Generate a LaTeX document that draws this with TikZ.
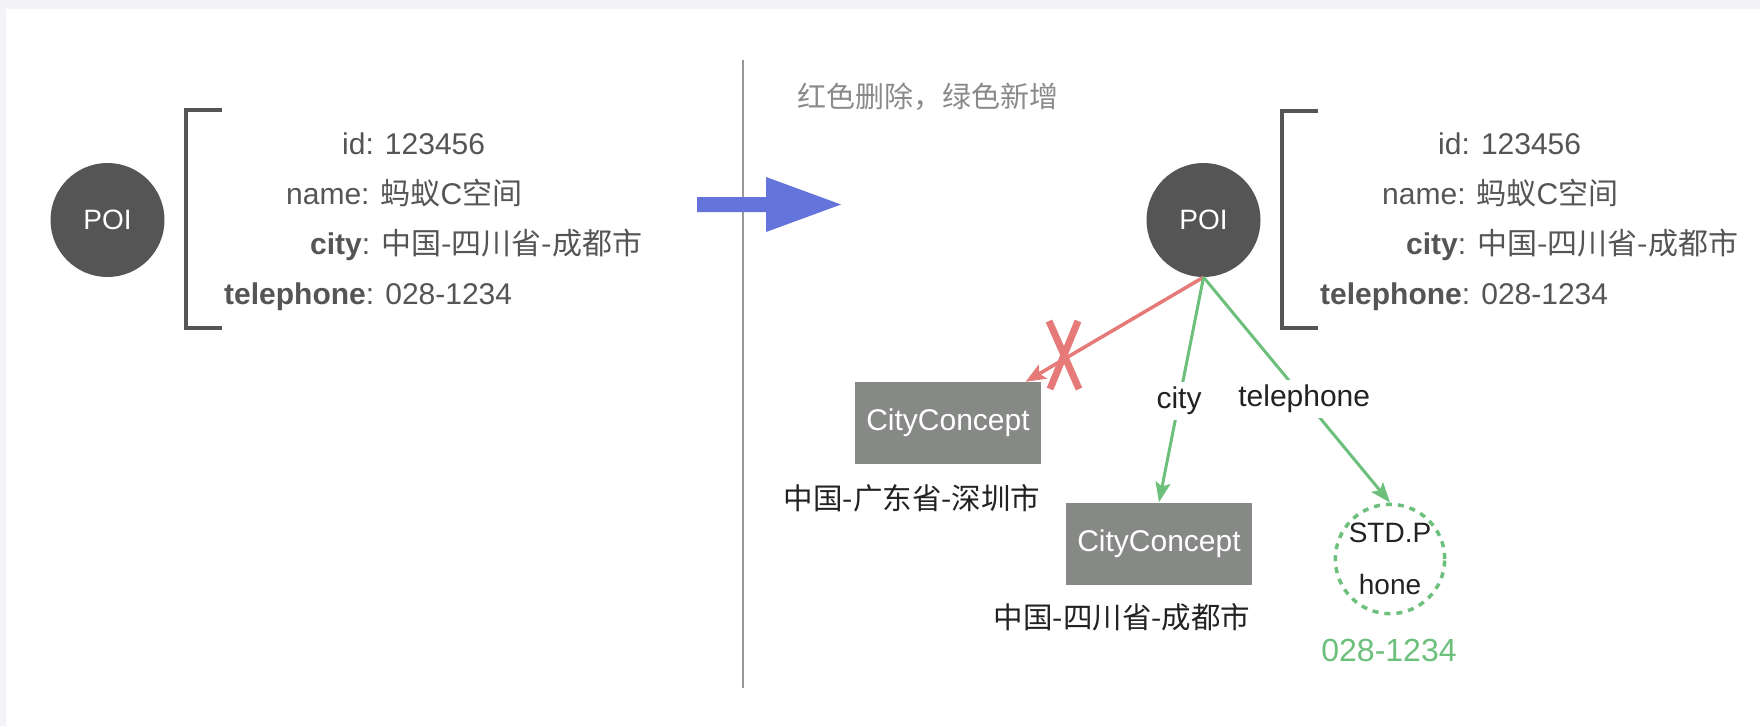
\documentclass[tikz,border=0pt]{standalone}
\usepackage{fontspec}
\setmainfont{Liberation Sans}
\newfontfamily\cjk{Noto Sans CJK SC}
\usetikzlibrary{arrows.meta}
\definecolor{poigray}{HTML}{555555}
\definecolor{txtgray}{HTML}{555555}
\definecolor{notegray}{HTML}{8A8A8A}
\definecolor{boxgray}{HTML}{878986}
\definecolor{delred}{HTML}{E57A78}
\definecolor{addgreen}{HTML}{6DBF7C}
\definecolor{arrowblue}{HTML}{6574DB}
\definecolor{bgstrip}{HTML}{F4F4F8}
\definecolor{divgray}{HTML}{999999}
\definecolor{captxt}{HTML}{222222}
\begin{document}
\begin{tikzpicture}[x=1pt,y=-1pt,
  txt/.style={font=\fontsize{30}{34}\selectfont, inner sep=0pt},
  attr/.style={txt, text=txtgray, anchor=base west},
  poi/.style={circle, fill=poigray, minimum size=114pt, inner sep=0pt, text=white, font=\fontsize{28}{32}\selectfont},
  concept/.style={rectangle, fill=boxgray, minimum width=186pt, minimum height=82pt, inner sep=0pt, text=white, font=\fontsize{30}{34}\selectfont},
  caption/.style={txt, text=captxt, font=\fontsize{29.5}{34}\selectfont},
  bracket/.style={draw=poigray, line width=4pt},
  edgelab/.style={txt, fill=white, inner sep=5pt, text=captxt},
  del/.style={draw=delred, line width=3.5pt, -{Stealth[length=20pt,width=16pt,inset=4pt]}},
  add/.style={draw=addgreen, line width=3pt, -{Stealth[length=20pt,width=15pt,inset=4pt]}},
]
\fill[bgstrip] (0,0) rectangle (1760,726);
\fill[white] (6,9) rectangle (1760,726);
\useasboundingbox (0,0) rectangle (1760,726);

% left part
\node[poi] (poiL) at (107.5,220) {POI};
\draw[bracket] (222,110) -- (186,110) -- (186,328) -- (222,328);
\node[attr] (idL) at (342,154) {id: 123456};
\node[attr] (nameL) at (286,204) {name: {\cjk 蚂蚁}C{\cjk 空间}};
\node[attr] (cityL) at (310,254) {\textbf{city}: {\cjk 中国-四川省-成都市}};
\node[attr] (telL) at (224,304) {\textbf{telephone}: 028-1234};

% divider and transition arrow
\coordinate (divtop) at (743,60);
\coordinate (divbot) at (743,688);
\draw[divgray, line width=1.5pt] (divtop) -- (divbot);
\fill[arrowblue] (697,197) -- (766,197) -- (766,177) -- (841,204.5) -- (766,232) -- (766,212) -- (697,212) -- cycle;

\node[txt, text=notegray, anchor=west, font=\fontsize{29}{34}\selectfont] (note) at (797,97) {\cjk 红色删除，绿色新增};

% right part
\node[poi] (poiR) at (1203.5,220) {POI};
\draw[bracket] (1318,111) -- (1282,111) -- (1282,328) -- (1318,328);
\node[attr] (idR) at (1438,154) {id: 123456};
\node[attr] (nameR) at (1382,204) {name: {\cjk 蚂蚁}C{\cjk 空间}};
\node[attr] (cityR) at (1406,254) {\textbf{city}: {\cjk 中国-四川省-成都市}};
\node[attr] (telR) at (1320,304) {\textbf{telephone}: 028-1234};

\node[concept] (c1) at (948,423) {CityConcept};
\node[caption] (c1lab) at (912,498) {\cjk 中国-广东省-深圳市};
\node[concept] (c2) at (1159,543.5) {CityConcept};
\node[caption] (c2lab) at (1122,617) {\cjk 中国-四川省-成都市};
\node[circle, draw=addgreen, line width=3.5pt, dash pattern=on 6pt off 6pt, minimum size=108pt, inner sep=0pt,
      text=captxt, align=center, font=\fontsize{28}{52}\selectfont] (std) at (1390,559) {STD.P\\hone};
\node[txt, text=addgreen, font=\fontsize{32}{36}\selectfont] (stdval) at (1389,650) {028-1234};

\draw[del] (poiR.south) -- (c1.28.7);
\draw[delred, line width=7pt] (1049,321) -- (1079,389) (1078,321) -- (1050,389);
\draw[add] (poiR.south) -- node[edgelab, pos=0.55] {city} (c2.north);
\draw[add] (poiR.south) -- node[edgelab, pos=0.54] {telephone} (std.north);
\end{tikzpicture}
\end{document}
